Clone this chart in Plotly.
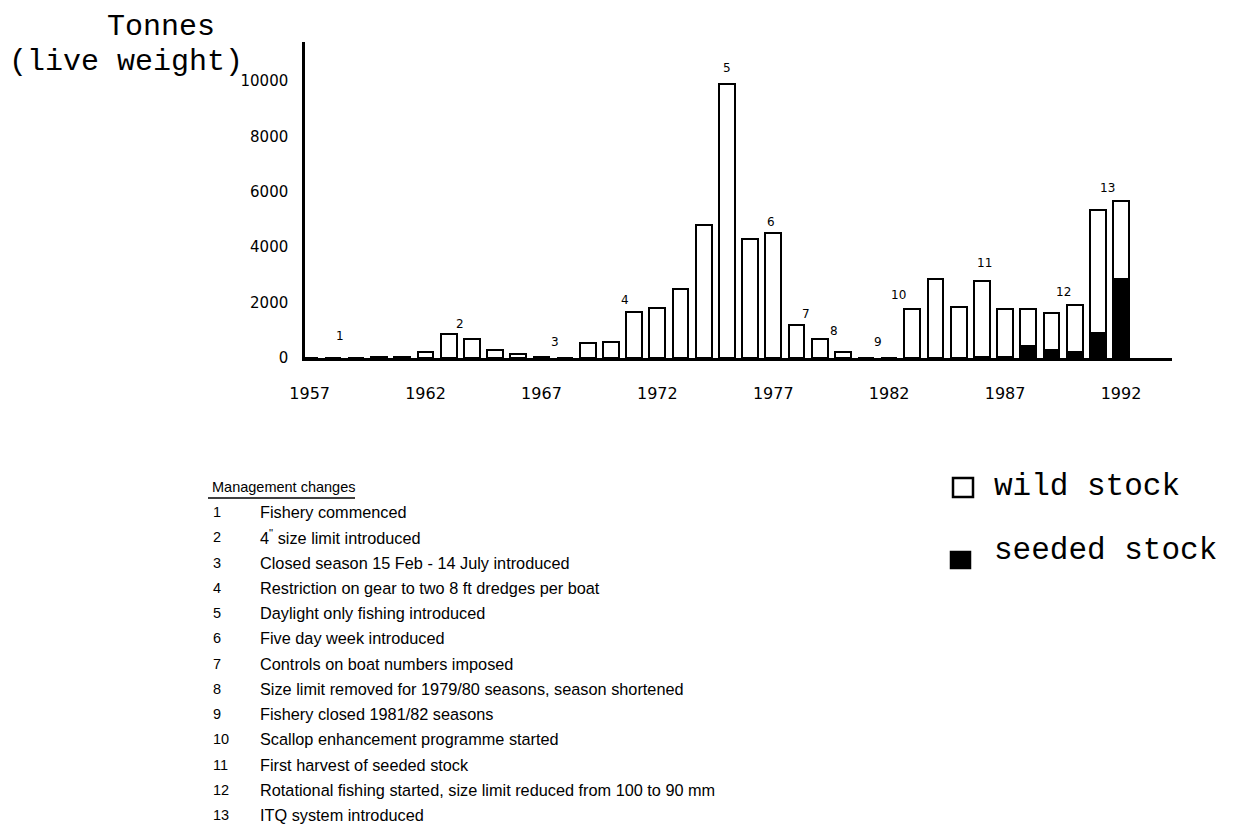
import plotly.graph_objects as go

# ---------------- data ----------------
years = list(range(1957, 1993))
wild = [0, 0, 0, 50, 30, 230, 870, 700, 280, 150, 30, 0, 550, 570, 1650, 1820,
        2500, 4800, 9900, 4300, 4500, 1200, 700, 200, 0, 0, 1750, 2850, 1850,
        2730, 1720, 1340, 1320, 1700, 4450, 2820]
seeded = [0] * 29 + [50, 30, 430, 300, 200, 900, 2850]

xtick_vals = [1957, 1962, 1967, 1972, 1977, 1982, 1987, 1992]
ytick_vals = [0, 2000, 4000, 6000, 8000, 10000]

# management-change markers above bars
marker_labels = ["1", "2", "3", "4", "5", "6", "7", "8", "9", "10", "11", "12", "13"]
marker_years = [1958.3, 1963.5, 1967.6, 1970.6, 1975.0, 1976.9, 1978.4, 1979.6,
                1981.5, 1982.4, 1986.1, 1989.5, 1991.4]
marker_heights = [800, 1230, 580, 2090, 10470, 4910, 1590, 975, 580, 2270, 3430, 2380, 6140]

mgmt_numbers = ["1", "2", "3", "4", "5", "6", "7", "8", "9", "10", "11", "12", "13"]
mgmt_texts = [
    "Fishery commenced",
    "4<sup>\"</sup> size limit introduced",
    "Closed season 15 Feb - 14 July introduced",
    "Restriction on gear to two 8 ft dredges per boat",
    "Daylight only fishing introduced",
    "Five day week introduced",
    "Controls on boat numbers imposed",
    "Size limit removed for 1979/80 seasons, season shortened",
    "Fishery closed 1981/82 seasons",
    "Scallop enhancement programme started",
    "First harvest of seeded stock",
    "Rotational fishing started, size limit reduced from 100 to 90 mm",
    "ITQ system introduced",
]

legend_names = ["wild stock", "seeded stock"]
legend_fills = ["white", "black"]

# ---------------- layout geometry ----------------
OFF = 8                      # page body margin offset
W, H = 1236 - OFF, 828 - OFF
L, T = 305 - OFF, 42 - OFF
R = W - (1172 - OFF)
B = H - (358 - OFF)
PW, PH = W - L - R, H - T - B


def px(xp):
    return (xp - OFF - L) / PW


def py(yp):
    return (H - B - (yp - OFF)) / PH


fig = go.Figure()
fig.add_trace(go.Bar(
    x=years, y=seeded, name=legend_names[1], width=0.68,
    marker=dict(color=legend_fills[1], line=dict(color="black", width=2)),
))
fig.add_trace(go.Bar(
    x=years, y=wild, name=legend_names[0], width=0.68,
    marker=dict(color=legend_fills[0], line=dict(color="black", width=2)),
))

annotations = []
for lab, xv, yv in zip(marker_labels, marker_years, marker_heights):
    annotations.append(dict(x=xv, y=yv, xref="x", yref="y", text=lab, showarrow=False,
                            font=dict(family="DejaVu Sans", size=12, color="black")))

annotations.append(dict(x=px(161), y=py(OFF), xref="paper", yref="paper", text="Tonnes",
                        showarrow=False, xanchor="center", yanchor="top",
                        font=dict(family="Liberation Mono", size=30, color="black")))
annotations.append(dict(x=px(126), y=py(62), xref="paper", yref="paper", text="(live weight)",
                        showarrow=False, xanchor="center", yanchor="middle",
                        font=dict(family="Liberation Mono", size=30, color="black")))

annotations.append(dict(x=px(210), y=py(487), xref="paper", yref="paper",
                        text="Management changes", showarrow=False,
                        xanchor="left", yanchor="middle",
                        font=dict(family="Liberation Sans", size=14.5, color="black")))
row0, rowstep = 512, 25.25
for i, (n, t) in enumerate(zip(mgmt_numbers, mgmt_texts)):
    yy = py(row0 + i * rowstep)
    annotations.append(dict(x=px(211), y=yy, xref="paper", yref="paper", text=n,
                            showarrow=False, xanchor="left", yanchor="middle",
                            font=dict(family="Liberation Sans", size=14.5, color="black")))
    annotations.append(dict(x=px(258), y=yy, xref="paper", yref="paper", text=t,
                            showarrow=False, xanchor="left", yanchor="middle",
                            font=dict(family="Liberation Sans", size=16.3, color="black")))

shapes = [dict(type="line", xref="paper", yref="paper", x0=px(208), x1=px(355),
               y0=py(498), y1=py(498), line=dict(color="black", width=1.5))]

# hand-drawn style legend (keys + labels)
legend_rows = [(953, 973, 478, 497, 486), (951, 970, 552, 568, 550)]
for name, fill, (x0, x1, y0, y1, ty) in zip(legend_names, legend_fills, legend_rows):
    shapes.append(dict(type="rect", xref="paper", yref="paper",
                       x0=px(x0), x1=px(x1), y0=py(y1), y1=py(y0),
                       fillcolor=fill, line=dict(color="black", width=2.5)))
    annotations.append(dict(x=px(992), y=py(ty), xref="paper", yref="paper", text=name,
                            showarrow=False, xanchor="left", yanchor="middle",
                            font=dict(family="Liberation Mono", size=31, color="black")))

fig.update_layout(
    width=W, height=H,
    margin=dict(l=L, r=R, t=T, b=B, pad=0),
    paper_bgcolor="white", plot_bgcolor="white",
    barmode="stack", bargap=0,
    showlegend=False,
    annotations=annotations,
    shapes=shapes,
    xaxis=dict(range=[1956.8, 1994.2], tickvals=xtick_vals,
               ticktext=[str(v) for v in xtick_vals],
               showgrid=False, zeroline=False, showline=True, linecolor="black",
               linewidth=2.5, ticks="", ticklabelstandoff=19,
               tickfont=dict(family="DejaVu Sans", size=16, color="black")),
    yaxis=dict(range=[0, 11400], tickvals=ytick_vals,
               ticktext=[str(v) for v in ytick_vals],
               showgrid=False, zeroline=False, showline=True, linecolor="black",
               linewidth=2.5, ticks="", ticklabelstandoff=11,
               tickfont=dict(family="DejaVu Sans", size=15, color="black")),
)

fig.write_html("out.html")
